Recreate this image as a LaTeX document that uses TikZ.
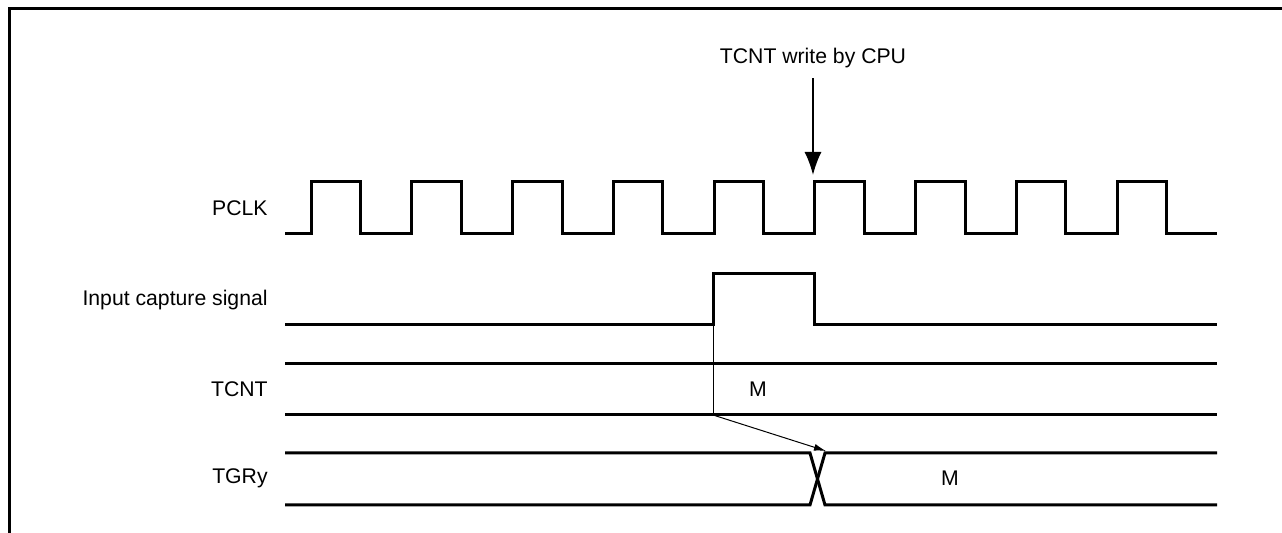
\documentclass[tikz,border=0pt]{standalone}
\usepackage{fontspec}
\setmainfont{Liberation Sans}
\usetikzlibrary{arrows.meta}

\begin{document}
\begin{tikzpicture}[x=0.5pt, y=-0.5pt, font=\fontsize{10.6}{12}\selectfont,
	sig/.style={line width=1.5pt, line join=miter},
	lbl/.style={anchor=east, inner sep=0pt}]

\useasboundingbox (0,0) rectangle (1282,533);
\draw[line width=1.5pt] (9,533) -- (9,9) -- (1282,9);

% Etiquetas
\node[lbl] (pclk) at (268,208) {PCLK};
\node[lbl] (cap) at (268,300) {Input capture signal};
\node[lbl] (tcnt) at (268,389) {TCNT};
\node[lbl] (tgry) at (268,478) {TGRy};

% Reloj
\draw[sig] (285,234)
	\foreach \k in {0,...,8}
		{-- ({311+100.75*\k},234) -- ++(0,-52) -- ++(49.5,0) -- ++(0,52)}
	-- (1217,234);

% Captura
\draw[sig] (285,325) -- (713,325) -- (713,274) -- (814,274) -- (814,325) -- (1217,325);

% TCNT
\draw[sig] (285,364) -- (1217,364);
\draw[sig] (285,415) -- (1217,415);
\node (mcnt) at (758,389) {M};

% TGRy
\draw[sig] (285,453) -- (810,453) -- (825,505) -- (1217,505);
\draw[sig] (285,505) -- (810,505) -- (825,453) -- (1217,453);
\node (mtgr) at (950,478) {M};

% Flechas
\node[inner sep=0pt] (wr) at (813,58) {TCNT write by CPU};
\coordinate (edge) at (813,175);
\draw[line width=0.75pt, -{Latex[length=11.5pt, width=8.5pt]}] (wr.south) ++(0,10) -- (edge);

\coordinate (capup) at (713,325);
\coordinate (cntlo) at (713,415);
\coordinate (tgrx) at (826,451);
\draw[line width=0.5pt] (capup) -- (cntlo);
\draw[line width=0.5pt, -{Latex[length=6pt, width=3.5pt]}] (cntlo) -- (tgrx);

\end{tikzpicture}
\end{document}
